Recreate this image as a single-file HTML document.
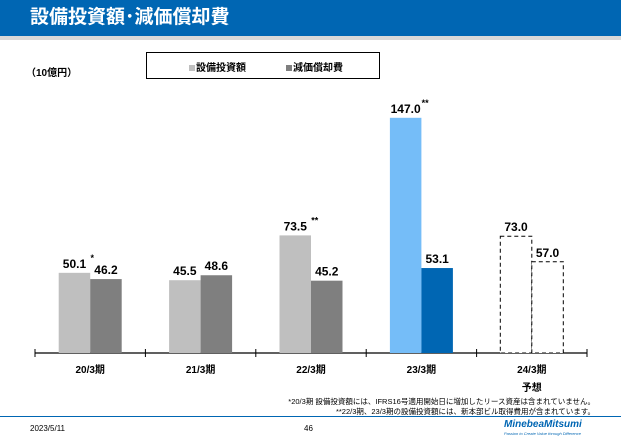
<!DOCTYPE html>
<html><head><meta charset="utf-8"><style>
body{margin:0;width:621px;height:438px;overflow:hidden;background:#fff;font-family:"Liberation Sans","Noto Sans CJK JP",sans-serif;position:relative}
.a{position:absolute}
</style></head><body>
<div class="a" style="left:0;top:0;width:621px;height:36px;background:#0066b3"></div>
<div class="a" style="left:0;top:36px;width:621px;height:4px;background:#d9d9d9"></div>
<div class="a" style="left:30px;top:6px;color:#fff;font-size:19px;font-weight:bold;line-height:24px">設備投資額･減価償却費</div>
<div class="a" style="left:26px;top:64px;font-size:10px;font-weight:bold">（10億円）</div>
<div class="a" style="left:146px;top:52px;width:232px;height:25px;border:1px solid #000;font-size:10px;font-weight:bold">
<span style="position:absolute;left:42px;top:6px"><span style="display:inline-block;width:6px;height:6px;background:#bfbfbf;margin-right:1px"></span>設備投資額</span>
<span style="position:absolute;left:139px;top:6px"><span style="display:inline-block;width:6px;height:6px;background:#7f7f7f;margin-right:1px"></span>減価償却費</span>
</div>
<svg class="a" style="left:0;top:0" width="621" height="438" id="chart"></svg>
<div class="a" style="right:26px;top:396px;font-size:7.5px">*20/3期 設備投資額には、IFRS16号適用開始日に増加したリース資産は含まれていません。</div>
<div class="a" style="right:26px;top:406px;font-size:7.5px">**22/3期、23/3期の設備投資額には、新本部ビル取得費用が含まれています。</div>
<div class="a" style="left:0;top:416px;width:621px;height:1px;background:#0066b3"></div>
<div class="a" style="left:30px;top:424px;font-size:8px">2023/5/11</div>
<div class="a" style="left:304px;top:424px;font-size:8px">46</div>
<div class="a" style="left:504px;top:419px;color:#0066b3;font-size:10px;font-weight:bold;font-style:italic">MinebeaMitsumi</div>
<div class="a" style="left:504px;top:431px;color:#0066b3;font-size:4px;font-style:italic">Passion to Create Value through Difference</div>
<script>
const categories=["20/3期","21/3期","22/3期","23/3期","24/3期"];
const capex=[50.1,45.5,73.5,147.0,73.0];
const depreciation=[46.2,48.6,45.2,53.1,57.0];
const capexNotes=["*","","**","**",""];
const forecast=[false,false,false,false,true];
const svg=document.getElementById('chart');
const NS="http://www.w3.org/2000/svg";
const x0=35,step=110.4,base=353,k=1.6,bw=31.5;
const y=v=>base-v*k;
function mk(t,a,p){const e=document.createElementNS(NS,t);for(const n in a)e.setAttribute(n,a[n]);(p||svg).appendChild(e);return e;}
const ax=mk('line',{x1:x0,x2:x0+step*5,y1:base,y2:base,stroke:'#000','stroke-width':1.2});


for(let i=0;i<=5;i++){const t=mk('line',{x1:x0+i*step,x2:x0+i*step,y1:base-4,y2:base+4,stroke:'#000'});

}
categories.forEach((c,i)=>{
 const cx=x0+step*(i+0.5);
 const cols=i===3?['#75bdf8','#0066b3']:['#bfbfbf','#7f7f7f'];
 [[capex[i],cx-bw,cols[0],'capex'],[depreciation[i],cx,cols[1],'depreciation']].forEach(([v,bx,col,nm])=>{
  const r=mk('rect',{x:bx,y:y(v),width:bw,height:v*k,fill:forecast[i]?'#fff':col});
  if(forecast[i]){r.setAttribute('stroke','#000');r.setAttribute('stroke-dasharray','4,3');}
  
  
  const tx=mk('text',{x:bx+bw/2,y:y(v)-5,'text-anchor':'middle','font-size':12,'font-weight':'bold'});
  tx.textContent=v.toFixed(1);
  
  
 });
 if(capexNotes[i]){const n=mk('text',{x:cx-bw/2+16,y:y(capex[i])-12,'font-size':9,'font-weight':'bold'});n.textContent=capexNotes[i];
 
 }
 const l=mk('text',{x:cx,y:373,'text-anchor':'middle','font-size':10,'font-weight':'bold'});l.textContent=c;
 
 
 if(forecast[i]){const f=mk('text',{x:cx,y:391,'text-anchor':'middle','font-size':10,'font-weight':'bold'});f.textContent='予想';
 
 }
});
</script>
</body></html>
